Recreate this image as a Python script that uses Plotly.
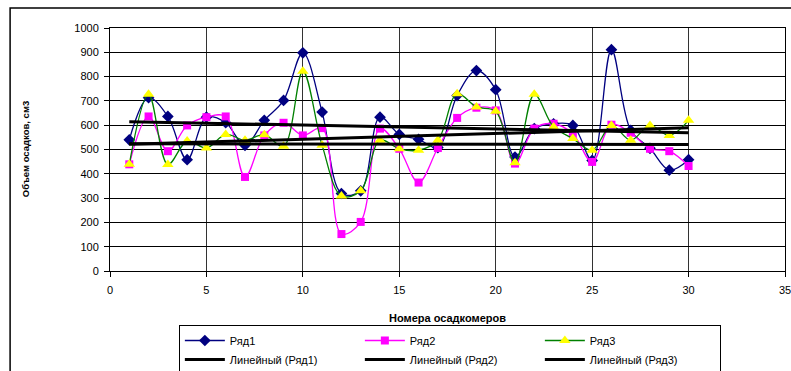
import numpy as np
import plotly.graph_objects as go

# Номера осадкомеров
gauges = list(range(1, 31))

# Объём осадков по трём рядам наблюдений
row1 = [540, 713, 636, 458, 633, 610, 517, 620, 702, 898,
        654, 319, 330, 633, 562, 542, 508, 722, 825, 746,
        469, 586, 606, 599, 455, 911, 579, 505, 415, 458]
row2 = [439, 636, 493, 599, 633, 636, 387, 558, 610, 558,
        588, 152, 202, 586, 503, 364, 506, 630, 672, 661,
        442, 586, 606, 565, 449, 602, 569, 503, 493, 432]
row3 = [439, 727, 438, 535, 506, 562, 538, 561, 513, 822,
        517, 309, 330, 538, 503, 497, 538, 729, 675, 657,
        445, 727, 593, 545, 497, 599, 538, 599, 558, 620]

names = ["Ряд1", "Ряд2", "Ряд3"]
trend_names = ["Линейный (Ряд1)", "Линейный (Ряд2)", "Линейный (Ряд3)"]

x_ticks = [0, 5, 10, 15, 20, 25, 30, 35]
y_ticks = [0, 100, 200, 300, 400, 500, 600, 700, 800, 900, 1000]

FONT = "Liberation Sans, Arial, sans-serif"

styles = [
    dict(line=dict(color="#000080", width=1.3),
         marker=dict(symbol="diamond", size=9, color="#000080")),
    dict(line=dict(color="#FF00FF", width=1.3),
         marker=dict(symbol="square", size=8, color="#FF00FF")),
    dict(line=dict(color="#008000", width=1.3),
         marker=dict(symbol="triangle-up", size=10, color="#FFFF00")),
]

fig = go.Figure()

for name, ys, st in zip(names, [row1, row2, row3], styles):
    fig.add_trace(go.Scatter(
        x=gauges, y=ys, name=name, mode="lines+markers",
        line=dict(shape="spline", smoothing=1.0, **st["line"]),
        marker=st["marker"],
    ))

# Линейные тренды по каждому ряду
xs = np.array(gauges, dtype=float)
for name, ys in zip(trend_names, [row1, row2, row3]):
    k, b = np.polyfit(xs, np.array(ys, dtype=float), 1)
    ends = np.array([xs[0], xs[-1]])
    fig.add_trace(go.Scatter(
        x=ends, y=k * ends + b, name=name, mode="lines",
        line=dict(color="black", width=3),
    ))

# Рамка области диаграммы
fig.add_shape(type="rect", xref="paper", yref="paper",
              x0=-0.148, x1=1.2, y0=-0.6, y1=1.082,
              line=dict(color="black", width=1.5), fillcolor="rgba(0,0,0,0)",
              layer="below")

fig.add_annotation(
    text="<b>Объем осадков, см3</b>", textangle=-90,
    xref="paper", yref="paper", x=-0.136, y=0.50,
    showarrow=False, font=dict(family=FONT, size=9.5, color="black"),
)

fig.update_layout(
    width=791, height=371,
    margin=dict(l=110, r=6, t=28, b=100),
    paper_bgcolor="white", plot_bgcolor="white",
    font=dict(family=FONT, size=11, color="black"),
    showlegend=True,
    legend=dict(
        orientation="h",
        xref="paper", x=0.5035, xanchor="center",
        yref="container", y=0.124, yanchor="top",
        entrywidth=125, entrywidthmode="pixels",
        bordercolor="black", borderwidth=1,
        font=dict(family=FONT, size=11, color="black"),
        tracegroupgap=0, itemwidth=40,
    ),
)

fig.update_xaxes(
    range=[0, 35], tickvals=x_ticks, ticktext=[str(v) for v in x_ticks],
    showgrid=True, gridcolor="#333333", gridwidth=1,
    showline=True, linecolor="black", linewidth=1, mirror=True,
    ticks="outside", ticklen=5, tickcolor="black", ticklabelstandoff=4,
    ticklabeloverflow="allow", automargin=False,
    zeroline=False,
    title=dict(text="<b>Номера осадкомеров</b>", standoff=19,
               font=dict(family=FONT, size=11, color="black")),
)
fig.update_yaxes(
    range=[0, 1000], tickvals=y_ticks, ticktext=[str(v) for v in y_ticks],
    showgrid=True, gridcolor="black", gridwidth=1,
    showline=True, linecolor="black", linewidth=1, mirror=True,
    ticks="outside", ticklen=5, tickcolor="black", ticklabelstandoff=3,
    ticklabeloverflow="allow", automargin=False,
    zeroline=False,
)

fig.write_html("out.html")
